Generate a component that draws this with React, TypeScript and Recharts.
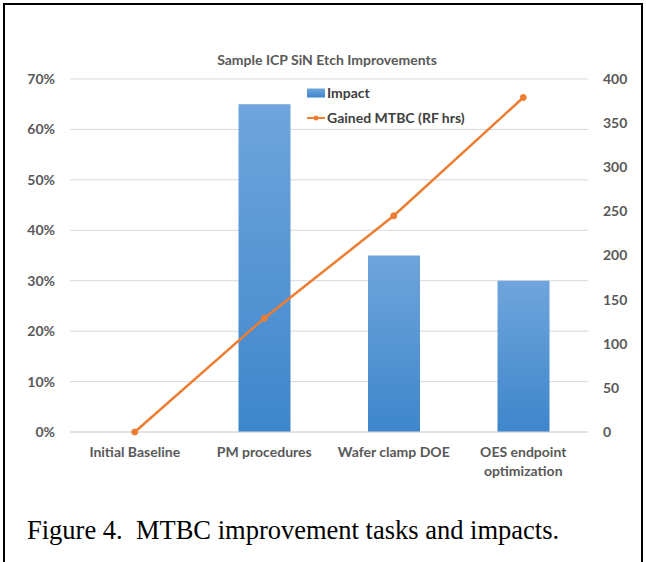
import { ComposedChart, Bar, Line, XAxis, YAxis, CartesianGrid, Legend } from "recharts";

const categories = ["Initial Baseline", "PM procedures", "Wafer clamp DOE", "OES endpoint\noptimization"];
const impact = [0, 0.65, 0.35, 0.3];
const gainedMtbc = [0, 129, 245, 379];
const leftTicks = [0, 0.1, 0.2, 0.3, 0.4, 0.5, 0.6, 0.7];
const rightTicks = [0, 50, 100, 150, 200, 250, 300, 350, 400];

const chartData = categories.map((name, i) => ({
  name,
  impact: impact[i],
  mtbc: gainedMtbc[i],
}));

const FONT = "Lato, 'Open Sans', sans-serif";
const AXIS_GRAY = "#595959";
const ORANGE = "#ed7d31";

const CategoryTick = ({ x, y, payload }: any) => {
  const lines = String(payload.value).split("\n");
  return (
    <text x={x} y={y} textAnchor="middle" fill={AXIS_GRAY} fontSize={14} fontWeight={700} fontFamily={FONT}>
      {lines.map((ln, i) => (
        <tspan key={i} x={x} dy={i === 0 ? 25 : 19}>
          {ln}
        </tspan>
      ))}
    </text>
  );
};

const LegendBox = () => (
  <div style={{ fontFamily: FONT, fontSize: 14, fontWeight: 700, color: "#404040", lineHeight: "25px" }}>
    <div style={{ display: "flex", alignItems: "center" }}>
      <svg width={20} height={10} style={{ marginRight: 1 }}>
        <rect x={1} y={0.5} width={18} height={9} fill="url(#barFillLegend)" />
        <defs>
          <linearGradient id="barFillLegend" x1="0" y1="0" x2="0" y2="1">
            <stop offset="0%" stopColor="#6fa5dc" />
            <stop offset="100%" stopColor="#3e86cb" />
          </linearGradient>
        </defs>
      </svg>
      <span>Impact</span>
    </div>
    <div style={{ display: "flex", alignItems: "center" }}>
      <svg width={20} height={10} style={{ marginRight: 1 }}>
        <line x1={1} y1={5} x2={19} y2={5} stroke={ORANGE} strokeWidth={2} />
        <circle cx={10} cy={5} r={2.5} fill={ORANGE} />
      </svg>
      <span>Gained MTBC (RF hrs)</span>
    </div>
  </div>
);

const App = () => {
  return (
    <div style={{ position: "absolute", left: 0, top: 0, width: 646, height: 562, overflow: "hidden", background: "#fff" }}>
      <div
        style={{
          position: "absolute",
          left: 3,
          top: 3,
          width: 636,
          height: 600,
          borderTop: "2px solid #000",
          borderLeft: "2px solid #000",
          borderRight: "2px solid #000",
        }}
      />
      <div
        style={{
          position: "absolute",
          left: 4,
          top: 51,
          width: 646,
          textAlign: "center",
          fontFamily: FONT,
          fontSize: 14,
          fontWeight: 700,
          color: AXIS_GRAY,
        }}
      >
        Sample ICP SiN Etch Improvements
      </div>
      <div style={{ position: "absolute", left: 0, top: 0 }}>
        <ComposedChart width={646} height={500} data={chartData} margin={{ top: 79, right: 0, left: 0, bottom: 28 }}>
          <defs>
            <linearGradient id="barFill" x1="0" y1="0" x2="0" y2="1">
              <stop offset="0%" stopColor="#6fa5dc" />
              <stop offset="100%" stopColor="#3e86cb" />
            </linearGradient>
          </defs>
          <CartesianGrid yAxisId="left" vertical={false} stroke="#d9d9d9" />
          <XAxis
            dataKey="name"
            height={40}
            interval={0}
            axisLine={{ stroke: "#d9d9d9" }}
            tickLine={false}
            tickSize={0}
            tickMargin={0}
            tick={<CategoryTick />}
          />
          <YAxis
            yAxisId="left"
            width={70}
            domain={[0, 0.7]}
            ticks={leftTicks}
            tickFormatter={(v: number) => `${Math.round(v * 100)}%`}
            axisLine={false}
            tickLine={false}
            tickSize={0}
            tickMargin={15}
            tick={{ fill: AXIS_GRAY, fontSize: 14, fontWeight: 700, fontFamily: FONT }}
          />
          <YAxis
            yAxisId="right"
            orientation="right"
            width={58}
            domain={[0, 400]}
            ticks={rightTicks}
            axisLine={false}
            tickLine={false}
            tickSize={0}
            tickMargin={15}
            tick={{ fill: AXIS_GRAY, fontSize: 14, fontWeight: 700, fontFamily: FONT }}
          />
          <Legend
            layout="vertical"
            align="center"
            verticalAlign="middle"
            content={<LegendBox />}
            wrapperStyle={{ left: 306, top: 80, width: "auto" }}
          />
          <Bar yAxisId="left" dataKey="impact" name="Impact" barSize={52} fill="url(#barFill)" isAnimationActive={false} />
          <Line
            yAxisId="right"
            type="linear"
            dataKey="mtbc"
            name="Gained MTBC (RF hrs)"
            stroke={ORANGE}
            strokeWidth={2.5}
            dot={{ r: 3, fill: ORANGE, stroke: ORANGE, strokeWidth: 1 }}
            isAnimationActive={false}
          />
        </ComposedChart>
      </div>
      <div
        style={{
          position: "absolute",
          left: 27,
          top: 515,
          fontFamily: "'Liberation Serif', 'Times New Roman', serif",
          fontSize: 26.5,
          lineHeight: "30px",
          color: "#000",
          whiteSpace: "pre",
        }}
      >
        {"Figure 4.  MTBC improvement tasks and impacts."}
      </div>
    </div>
  );
};

export default App;
